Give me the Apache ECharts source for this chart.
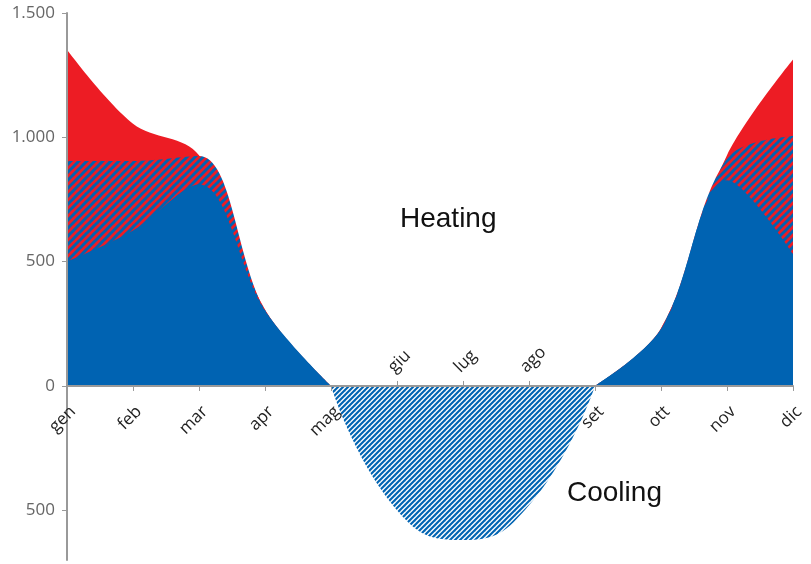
<!DOCTYPE html>
<html>
<head>
<meta charset="utf-8">
<style>html,body{margin:0;padding:0;background:#fff;}#c{width:811px;height:564px;}</style>
<script src="https://cdn.jsdelivr.net/npm/echarts@6/dist/echarts.min.js"></script>
</head>
<body>
<div id="c"></div>
<script>
// ---- data ----
var months = ['gen','feb','mar','apr','mag','giu','lug','ago','set','ott','nov','dic'];
var summerMonths = ['giu','lug','ago'];
var baseLoad   = [500, 625, 810, 303, 0, null, null, null, 0, 228, 827, 530];
var hatchedTop = [905, 905, 925, 305, 0, null, null, null, 0, 230, 915, 1005];
var totalTop   = [1352, 1055, 928, 307, 0, null, null, null, 0, 232, 928, 1313];
var cooling    = [null, null, null, null, 0, -500, -620, -480, 0, null, null, null];
var yTicks = [-500, 0, 500, 1000, 1500];
var yMin = -700, yMax = 1500;

function stripes(P, bg, fg, w) {
  var c = document.createElement('canvas');
  c.width = P; c.height = P;
  var g = c.getContext('2d');
  g.fillStyle = bg; g.fillRect(0, 0, P, P);
  g.strokeStyle = fg; g.lineWidth = w; g.lineCap = 'square';
  for (var k = -1; k <= 1; k++) {
    g.beginPath();
    g.moveTo(k * P - 1, P + 1);
    g.lineTo(k * P + P + 1, -1);
    g.stroke();
  }
  return c;
}
var BLUE = '#0063b2', RED = '#ed1c24';
var redBlue = stripes(8, RED, BLUE, 3);
var blueWhite = stripes(5, '#ffffff', BLUE, 2.1);

function isSummer(i) { return summerMonths.indexOf(months[i]) >= 0; }
function fmt(v) {
  var a = Math.abs(v);
  return a >= 1000 ? Math.floor(a / 1000) + '.' + String(a % 1000).padStart(3, '0') : String(a);
}

var W = 811, H = 564, gTop = 13, gBottom = 4;
var gridH = H - gTop - gBottom;
var zeroOffset = -(0 - yMin) / (yMax - yMin) * gridH; // move x axis up to the zero line
var SMOOTH = 0.35, SMOOTH_COOL = 0.5;

var chart = echarts.init(document.getElementById('c'));
var labelFont = { fontFamily: 'Open Sans', fontSize: 17, color: '#222' };
chart.setOption({
  animation: false,
  grid: { left: 67, right: 18, top: gTop, bottom: gBottom, containLabel: false, outerBoundsMode: 'none' },
  xAxis: [{
    type: 'category', data: months, boundaryGap: false, position: 'bottom', z: 10, offset: zeroOffset,
    axisLine: { onZero: false, lineStyle: { color: '#999', width: 2 } },
    axisTick: { show: true, length: 5, interval: function (i) { return !isSummer(i); }, lineStyle: { color: '#999', width: 1 } },
    axisLabel: Object.assign({ rotate: 45, margin: 17, verticalAlign: 'top', interval: function (i) { return !isSummer(i); } }, labelFont),
    splitLine: { show: false }
  }, {
    type: 'category', data: months, boundaryGap: false, position: 'bottom', z: 10, offset: zeroOffset,
    axisLine: { show: false, onZero: false },
    axisTick: { show: true, inside: true, length: 5, interval: function (i) { return isSummer(i); }, lineStyle: { color: '#999', width: 1 } },
    axisLabel: Object.assign({ rotate: 45, inside: true, margin: 10, verticalAlign: 'bottom', interval: function (i) { return isSummer(i); } }, labelFont),
    splitLine: { show: false }
  }],
  yAxis: {
    type: 'value', min: yMin, max: yMax, z: 10,
    axisLine: { show: true, lineStyle: { color: '#999', width: 2 } },
    axisTick: { show: true, length: 5, customValues: yTicks, lineStyle: { color: '#999' } },
    axisLabel: { customValues: yTicks, formatter: fmt, fontFamily: 'Open Sans', fontSize: 17, color: '#666', margin: 12 },
    splitLine: { show: false }
  },
  series: [
    { type: 'line', data: totalTop, smooth: SMOOTH, symbol: 'none', lineStyle: { width: 0 }, areaStyle: { color: RED, opacity: 1 }, z: 2 },
    { type: 'line', data: hatchedTop, smooth: SMOOTH, symbol: 'none', lineStyle: { width: 0 }, areaStyle: { color: { image: redBlue, repeat: 'repeat' }, opacity: 1 }, z: 3 },
    { type: 'line', data: baseLoad, smooth: SMOOTH, symbol: 'none', lineStyle: { width: 0 }, areaStyle: { color: BLUE, opacity: 1 }, z: 4 },
    { type: 'line', data: cooling, smooth: SMOOTH_COOL, symbol: 'none', lineStyle: { width: 0 }, areaStyle: { color: { image: blueWhite, repeat: 'repeat' }, opacity: 1 }, z: 4 }
  ],
  graphic: [
    { type: 'text', x: 400, y: 219, style: { text: 'Heating', font: '28px "Liberation Sans", Arial', fill: '#111', verticalAlign: 'middle' }, z: 20 },
    { type: 'text', x: 567, y: 493, style: { text: 'Cooling', font: '28px "Liberation Sans", Arial', fill: '#111', verticalAlign: 'middle' }, z: 20 }
  ]
});
</script>
</body>
</html>
